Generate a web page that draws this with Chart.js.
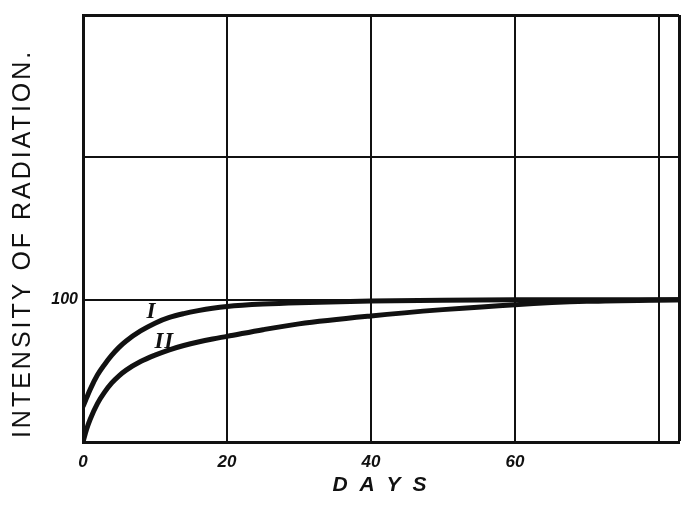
<!DOCTYPE html>
<html>
<head>
<meta charset="utf-8">
<script src="https://cdn.jsdelivr.net/npm/chart.js@4"></script>
<style>
  html, body { margin: 0; padding: 0; background: #fff; }
</style>
</head>
<body>
<canvas id="myChart" width="700" height="506"></canvas>
<script>
// days since start, and the two recovery curves (percent of final value)
var days    = [0, 0.5, 1, 2, 3, 4, 5, 6, 8, 10, 12, 14, 16, 18, 20, 25, 30, 40, 50, 60, 70, 82.8];
var curveI  = [25, 31, 37, 47, 54.5, 61, 66.5, 71, 78, 83.5, 87.5, 90.2, 92.3, 94, 95.2, 96.9, 97.9, 99, 99.6, 99.9, 100, 100];
var curveII = [0, 9, 16, 27, 35, 41.5, 46.5, 50.5, 56.5, 61, 64.8, 67.8, 70.3, 72.4, 74.2, 78.9, 83, 88.6, 93, 96.5, 98.8, 100];

var xTicks = [0, 20, 40, 60, 80, 82.8];
var xLabels = ["0", "20", "40", "60"];
var yTicks = [0, 100, 200, 300];
var yLabels = ["100"];

// curve names and where they sit (day, value)
var curveNames = ["I", "II"];
var namePos = [[9.5, 91.5], [11.3, 70]];

function toPoints(vals){
  var pts = [];
  for (var i = 0; i < days.length; i++) {
    pts.push({x: days[i], y: vals[i]});
  }
  return pts;
}

var ink = "#111";

// spaced-out lettering for the axis titles (drawn with the grid layer),
// switched off again before the tick labels (z: 1) are drawn
var spacing = {
  id: "spacing",
  beforeDraw: function(chart){ chart.ctx.letterSpacing = "3px"; },
  beforeDatasetsDraw: function(chart){ chart.ctx.letterSpacing = "0px"; }
};

var curveLabels = {
  id: "curveLabels",
  afterDatasetsDraw: function(chart){
    var ctx = chart.ctx;
    var xs = chart.scales.x, ys = chart.scales.y;
    ctx.save();
    ctx.letterSpacing = "1px";
    ctx.fillStyle = ink;
    ctx.font = "bold italic 23px 'Liberation Serif'";
    ctx.textAlign = "center";
    ctx.textBaseline = "middle";
    for (var i = 0; i < curveNames.length; i++) {
      ctx.fillText(curveNames[i], xs.getPixelForValue(namePos[i][0]), ys.getPixelForValue(namePos[i][1]));
    }
    ctx.restore();
    ctx.letterSpacing = "0px";
  }
};

var chart = new Chart("myChart", {
  type: "line",
  data: {
    datasets: [{
      label: "I",
      data: toPoints(curveI),
      borderColor: ink,
      borderWidth: 5,
      pointRadius: 0,
      cubicInterpolationMode: "monotone",
      fill: false
    }, {
      label: "II",
      data: toPoints(curveII),
      borderColor: ink,
      borderWidth: 5,
      pointRadius: 0,
      cubicInterpolationMode: "monotone",
      fill: false
    }]
  },
  options: {
    responsive: false,
    devicePixelRatio: 1,
    animation: false,
    layout: { padding: { left: 0, right: 21, top: 15, bottom: 0 } },
    plugins: {
      legend: { display: false },
      tooltip: { enabled: false }
    },
    scales: {
      x: {
        type: "linear",
        min: 0,
        max: 82.8,
        afterBuildTicks: function(scale){
          scale.ticks = xTicks.map(function(v){ return {value: v}; });
        },
        afterFit: function(scale){ scale.height = 64; },
        grid: {
          color: ink,
          lineWidth: function(c){ return c.tick && c.tick.value === 82.8 ? 3 : 2; },
          drawTicks: false
        },
        border: { display: true, color: ink, width: 3 },
        ticks: {
          z: 1,
          autoSkip: false,
          maxRotation: 0,
          padding: 10,
          color: ink,
          font: { family: "'Liberation Sans'", size: 17, weight: "bold", style: "italic" },
          callback: function(v){
            var s = String(v);
            return xLabels.indexOf(s) >= 0 ? s : "";
          }
        },
        title: {
          display: true,
          text: "D A Y S",
          color: ink,
          padding: { top: 0, bottom: 8 },
          font: { family: "'Liberation Sans'", size: 21, weight: "bold", style: "italic" }
        }
      },
      y: {
        min: 0,
        max: 300,
        afterBuildTicks: function(scale){
          scale.ticks = yTicks.map(function(v){ return {value: v}; });
        },
        afterFit: function(scale){ scale.width = 83; },
        grid: {
          color: ink,
          lineWidth: function(c){ return c.tick && c.tick.value === 300 ? 3 : 2; },
          drawTicks: false
        },
        border: { display: true, color: ink, width: 3 },
        ticks: {
          z: 1,
          padding: 5,
          color: ink,
          font: { family: "'Liberation Sans'", size: 16, weight: "bold", style: "italic" },
          callback: function(v){
            var s = String(v);
            return yLabels.indexOf(s) >= 0 ? s : "";
          }
        },
        title: {
          display: true,
          text: "INTENSITY OF RADIATION.   ",
          color: ink,
          padding: { top: 8, bottom: 0 },
          font: { family: "'Liberation Sans'", size: 25, weight: "normal" }
        }
      }
    }
  },
  plugins: [spacing, curveLabels]
});
</script>
</body>
</html>
